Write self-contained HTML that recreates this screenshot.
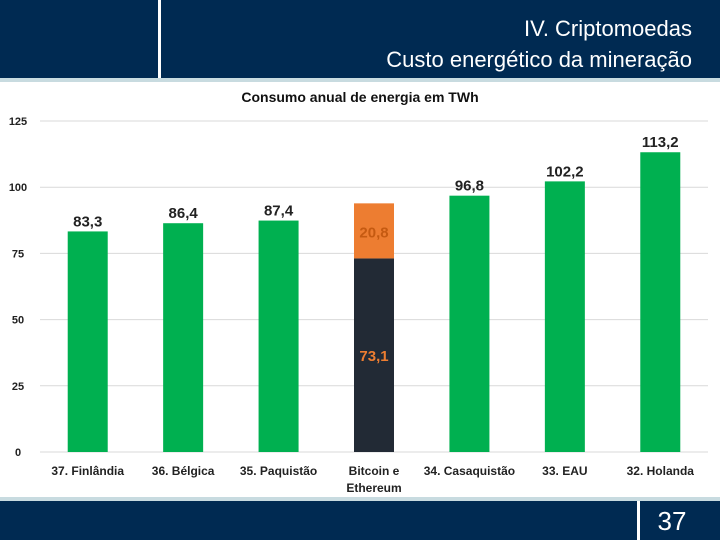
<!DOCTYPE html>
<html><head><meta charset="utf-8"><style>
body{margin:0;width:720px;height:540px;overflow:hidden;background:#fff;font-family:"Liberation Sans",sans-serif}
</style></head><body>
<svg width="720" height="540" xmlns="http://www.w3.org/2000/svg">
<rect x="0" y="0" width="720" height="78" fill="#002a52"/>
<rect x="158" y="0" width="3" height="78" fill="#fff"/>
<rect x="0" y="78" width="720" height="4" fill="#c8dbe0"/>
<text x="692" y="36" text-anchor="end" fill="#fff" font-size="22">IV. Criptomoedas</text>
<text x="692" y="67" text-anchor="end" fill="#fff" font-size="22">Custo energético da mineração</text>
<rect x="0" y="497" width="720" height="4" fill="#c8dbe0"/>
<rect x="0" y="501" width="720" height="39" fill="#002a52"/>
<rect x="637" y="501" width="3" height="39" fill="#fff"/>
<text x="672" y="530" text-anchor="middle" fill="#fff" font-size="26">37</text>
<text x="360" y="102" text-anchor="middle" fill="#111" font-size="14" font-weight="bold">Consumo anual de energia em TWh</text>
<g id="chart"></g>
</svg>
<script>
const categories=["37. Finlândia","36. Bélgica","35. Paquistão","Bitcoin e|Ethereum","34. Casaquistão","33. EAU","32. Holanda"];
const baseValues=[83.3,86.4,87.4,73.1,96.8,102.2,113.2];
const topValues=[0,0,0,20.8,0,0,0];
const yTicks=[0,25,50,75,100,125];
const g=document.getElementById('chart');
const NS="http://www.w3.org/2000/svg";
const x0=40,x1=708,yb=452,yt=121,ymax=125;
const y=v=>yb-(v/ymax)*(yb-yt);
const step=(x1-x0)/categories.length;
const cx=i=>x0+step*(i+0.5);
function mk(t,a,txt){const e=document.createElementNS(NS,t);for(const k in a)e.setAttribute(k,a[k]);if(txt!==undefined)e.textContent=txt;g.appendChild(e);return e;}
yTicks.forEach(t=>{
 const l=mk('line',{x1:x0,x2:x1,y1:y(t),y2:y(t),stroke:'#d9d9d9','stroke-width':1});
 
 
 const tx=mk('text',{x:18,y:y(t)+4,'text-anchor':'middle','font-size':11,'font-weight':'bold',fill:'#222'},String(t));
 
 
});
const bw=40;
categories.forEach((c,i)=>{
 const stacked=topValues[i]>0;
 const b=mk('rect',{x:cx(i)-bw/2,y:y(baseValues[i]),width:bw,height:yb-y(baseValues[i]),fill:stacked?'#222a35':'#00b050'});
 
 
 if(stacked){
  const tot=baseValues[i]+topValues[i];
  const t=mk('rect',{x:cx(i)-bw/2,y:y(tot),width:bw,height:y(baseValues[i])-y(tot),fill:'#ed7d31'});
  
  
  const l1=mk('text',{x:cx(i),y:y(tot)+34,'text-anchor':'middle','font-size':15,'font-weight':'bold',fill:'#c55a11'},String(topValues[i]).replace('.',','));
  
  
  const l2=mk('text',{x:cx(i),y:y(baseValues[i]/2)+6,'text-anchor':'middle','font-size':15,'font-weight':'bold',fill:'#ed7d31'},String(baseValues[i]).replace('.',','));
  
  
 } else {
  const l=mk('text',{x:cx(i),y:y(baseValues[i])-5,'text-anchor':'middle','font-size':15,'font-weight':'bold',fill:'#222'},String(baseValues[i]).replace('.',','));
  
  
 }
 c.split('|').forEach((p,j)=>{
  const t=mk('text',{x:cx(i),y:475+j*17,'text-anchor':'middle','font-size':12,'font-weight':'bold',fill:'#222'},p);
  
  
 });
});
</script>
</body></html>
